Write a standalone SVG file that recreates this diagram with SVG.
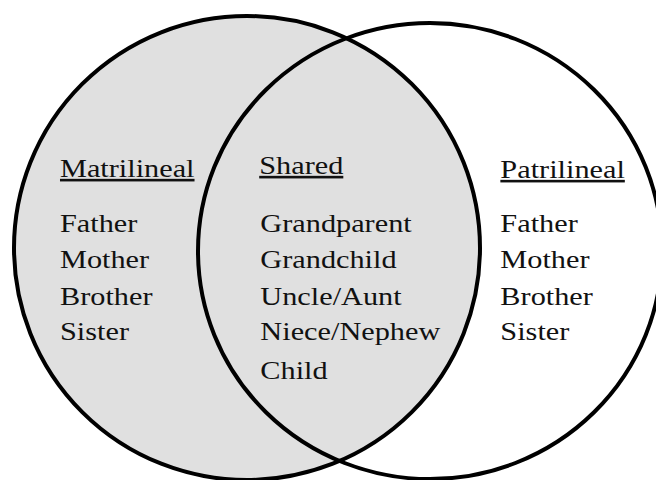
<svg xmlns="http://www.w3.org/2000/svg" width="656" height="480" viewBox="0 0 656 480">
  <style>
    .set { stroke: #000; stroke-width: 4; }
    .label { font-family: "Liberation Serif", "Times New Roman", serif; font-size: 26px; fill: #111; }
    .head { text-decoration: underline; }
  </style>
  <rect width="656" height="480" fill="#fff"/>
  <g id="sets">
    <ellipse id="matrilineal-set" class="set" cx="247" cy="248" rx="233" ry="232" fill="#e0e0e0"/>
    <ellipse id="patrilineal-set" class="set" cx="430" cy="251" rx="232" ry="228" fill="none"/>
  </g>
  <g id="connectors"/>
  <g transform="scale(1.165,1)">
    <g id="matrilineal">
      <text class="label head" x="51.5" y="177">Matrilineal</text>
      <text class="label" x="51.5" y="232">Father</text>
      <text class="label" x="51.5" y="268">Mother</text>
      <text class="label" x="51.5" y="305">Brother</text>
      <text class="label" x="51.5" y="340">Sister</text>
    </g>
    <g id="shared">
      <text class="label head" x="222.5" y="174">Shared</text>
      <text class="label" x="223.5" y="232">Grandparent</text>
      <text class="label" x="223.5" y="268">Grandchild</text>
      <text class="label" x="223.5" y="305">Uncle/Aunt</text>
      <text class="label" x="223.5" y="340">Niece/Nephew</text>
      <text class="label" x="223.5" y="379">Child</text>
    </g>
    <g id="patrilineal">
      <text class="label head" x="429.5" y="178">Patrilineal</text>
      <text class="label" x="429.5" y="232">Father</text>
      <text class="label" x="429.5" y="268">Mother</text>
      <text class="label" x="429.5" y="305">Brother</text>
      <text class="label" x="429.5" y="340">Sister</text>
    </g>
  </g>
</svg>
